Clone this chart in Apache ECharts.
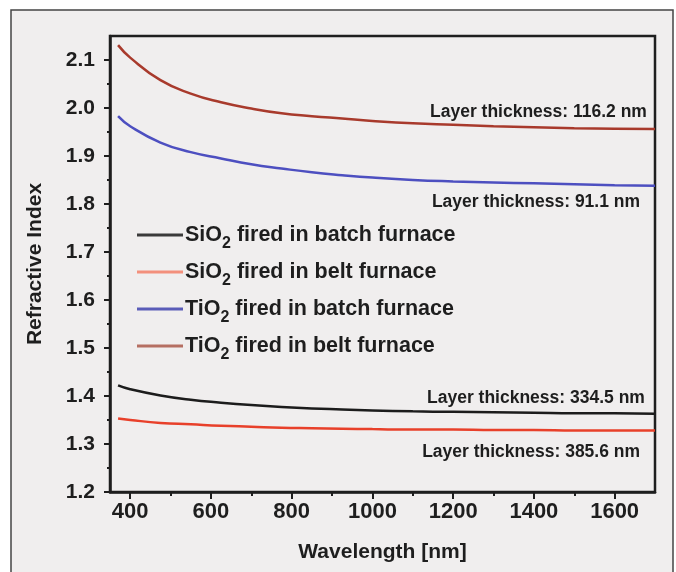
<!DOCTYPE html>
<html>
<head>
<meta charset="utf-8">
<script src="https://cdn.jsdelivr.net/npm/echarts@6/dist/echarts.min.js"></script>
<style>
	html, body { margin: 0; padding: 0; background: #ffffff; }
	#chart { width: 676px; height: 572px; }
</style>
</head>
<body>
<div id="chart"></div>
<script>
// wavelength (nm) of the sampled points
var wavelength = [370, 400, 475, 550, 625, 700, 775, 850, 925, 1000, 1100, 1200, 1300, 1400, 1500, 1600, 1700];

var sio2Batch = [1.422, 1.414, 1.401, 1.392, 1.386, 1.381, 1.377, 1.374, 1.372, 1.370, 1.368, 1.367, 1.366, 1.365, 1.364, 1.364, 1.363];
var sio2Belt = [1.353, 1.350, 1.344, 1.341, 1.338, 1.336, 1.334, 1.333, 1.332, 1.331, 1.330, 1.330, 1.329, 1.329, 1.328, 1.328, 1.328];
var tio2Batch = [1.983, 1.962, 1.928, 1.908, 1.895, 1.883, 1.874, 1.866, 1.860, 1.855, 1.850, 1.847, 1.845, 1.843, 1.841, 1.839, 1.838];
var tio2Belt = [2.131, 2.105, 2.058, 2.030, 2.012, 1.999, 1.989, 1.983, 1.978, 1.973, 1.968, 1.965, 1.962, 1.960, 1.958, 1.957, 1.956];

// tick labels
var xMajorTicks = [400, 600, 800, 1000, 1200, 1400, 1600];
var xMinorTicks = [500, 700, 900, 1100, 1300, 1500];
var yMajorTicks = [1.2, 1.3, 1.4, 1.5, 1.6, 1.7, 1.8, 1.9, 2.0, 2.1];
var yMinorTicks = [1.25, 1.35, 1.45, 1.55, 1.65, 1.75, 1.85, 1.95, 2.05];

// layer thickness notes: [text, wavelength, index]
var notes = [
	['Layer thickness: 116.2 nm', 1680, 1.991],
	['Layer thickness: 91.1 nm', 1663, 1.803],
	['Layer thickness: 334.5 nm', 1675, 1.395],
	['Layer thickness: 385.6 nm', 1663, 1.284]
];

function pairs(ys) {
	var out = [];
	for (var i = 0; i < wavelength.length; i++) {
		out.push([wavelength[i], ys[i]]);
	}
	return out;
}

var fontFamily = '"Liberation Sans", Arial, sans-serif';
var ink = '#1e1e1e';

function lineSeries(name, ys, color) {
	return {
		name: name,
		type: 'line',
		smooth: true,
		showSymbol: false,
		symbol: 'none',
		xAxisIndex: 0,
		yAxisIndex: 0,
		lineStyle: { color: color, width: 2.5 },
		itemStyle: { color: color },
		data: pairs(ys)
	};
}

var myChart = echarts.init(document.getElementById('chart'), null, { renderer: 'canvas' });

var option = {
	backgroundColor: '#ffffff',
	animation: false,
	graphic: [{
		type: 'rect',
		z: -10,
		shape: { x: 11, y: 10, width: 662, height: 590 },
		style: { fill: '#f0eeee', stroke: '#444444', lineWidth: 1.5 }
	}],
	grid: {
		left: 110,
		top: 36,
		right: 21,
		bottom: 80,
		show: true,
		borderColor: ink,
		borderWidth: 2.5,
		backgroundColor: 'transparent'
	},
	legend: {
		orient: 'vertical',
		left: 132,
		top: 219,
		itemWidth: 46,
		itemHeight: 3,
		itemGap: 9,
		icon: 'rect',
		data: [
			{ name: 'SiO2 batch', itemStyle: { color: '#3a3a3a' } },
			{ name: 'SiO2 belt', itemStyle: { color: '#f3907c' } },
			{ name: 'TiO2 batch', itemStyle: { color: '#5a5cb8' } },
			{ name: 'TiO2 belt', itemStyle: { color: '#b56f62' } }
		],
		formatter: function (name) {
			var parts = name.split(' ');
			var base = parts[0].slice(0, -1);
			return '{a|' + base + '}{s|2}{a| fired in ' + parts[1] + ' furnace}';
		},
		textStyle: {
			padding: [0, 0, 0, -3],
			rich: {
				a: { fontFamily: fontFamily, fontWeight: 'bold', fontSize: 21.5, color: ink, lineHeight: 22, verticalAlign: 'middle' },
				s: { fontFamily: fontFamily, fontWeight: 'bold', fontSize: 16, color: ink, lineHeight: 34, verticalAlign: 'bottom' }
			}
		}
	},
	xAxis: [{
		type: 'value',
		min: 350,
		max: 1700,
		name: 'Wavelength [nm]',
		nameLocation: 'middle',
		nameGap: 50,
		nameTextStyle: { fontFamily: fontFamily, fontWeight: 'bold', fontSize: 21, color: ink },
		axisLine: { lineStyle: { color: ink, width: 2.5 } },
		axisTick: { show: true, inside: false, length: 7, lineStyle: { color: ink, width: 2 }, customValues: xMajorTicks },
		axisLabel: {
			fontFamily: fontFamily, fontWeight: 'bold', fontSize: 22, color: ink, margin: 9,
			customValues: xMajorTicks,
			formatter: function (v) { return String(v); }
		},
		splitLine: { show: false }
	}, {
		type: 'value',
		min: 350,
		max: 1700,
		position: 'bottom',
		axisLine: { show: false },
		axisTick: { show: true, inside: false, length: 4, lineStyle: { color: ink, width: 2 }, customValues: xMinorTicks },
		axisLabel: { show: false },
		splitLine: { show: false }
	}],
	yAxis: [{
		type: 'value',
		min: 1.2,
		max: 2.15,
		name: 'Refractive Index',
		nameLocation: 'middle',
		nameGap: 64,
		nameTextStyle: { fontFamily: fontFamily, fontWeight: 'bold', fontSize: 21, color: ink },
		axisLine: { show: true, lineStyle: { color: ink, width: 2.5 } },
		axisTick: { show: true, inside: false, length: 6, lineStyle: { color: ink, width: 2 }, customValues: yMajorTicks },
		axisLabel: {
			fontFamily: fontFamily, fontWeight: 'bold', fontSize: 21, color: ink, margin: 15,
			customValues: yMajorTicks,
			formatter: function (v) { return v.toFixed(1); }
		},
		splitLine: { show: false }
	}, {
		type: 'value',
		min: 1.2,
		max: 2.15,
		position: 'left',
		axisLine: { show: false },
		axisTick: { show: true, inside: false, length: 3, lineStyle: { color: ink, width: 2 }, customValues: yMinorTicks },
		axisLabel: { show: false },
		splitLine: { show: false }
	}],
	series: [
		lineSeries('SiO2 batch', sio2Batch, '#1c1c1c'),
		lineSeries('SiO2 belt', sio2Belt, '#e8402a'),
		lineSeries('TiO2 batch', tio2Batch, '#4d4fc0'),
		lineSeries('TiO2 belt', tio2Belt, '#a83a2c'),
		{
			type: 'scatter',
			silent: true,
			xAxisIndex: 0,
			yAxisIndex: 0,
			symbolSize: 0,
			itemStyle: { opacity: 1 },
			label: {
				show: true,
				position: 'left',
				distance: 0,
				opacity: 1,
				fontFamily: fontFamily,
				fontWeight: 'bold',
				fontSize: 17.5,
				color: ink,
				formatter: function (p) { return p.data[2]; }
			},
			data: notes.map(function (n) { return [n[1], n[2], n[0]]; })
		}
	]
};

myChart.setOption(option);
</script>
</body>
</html>
